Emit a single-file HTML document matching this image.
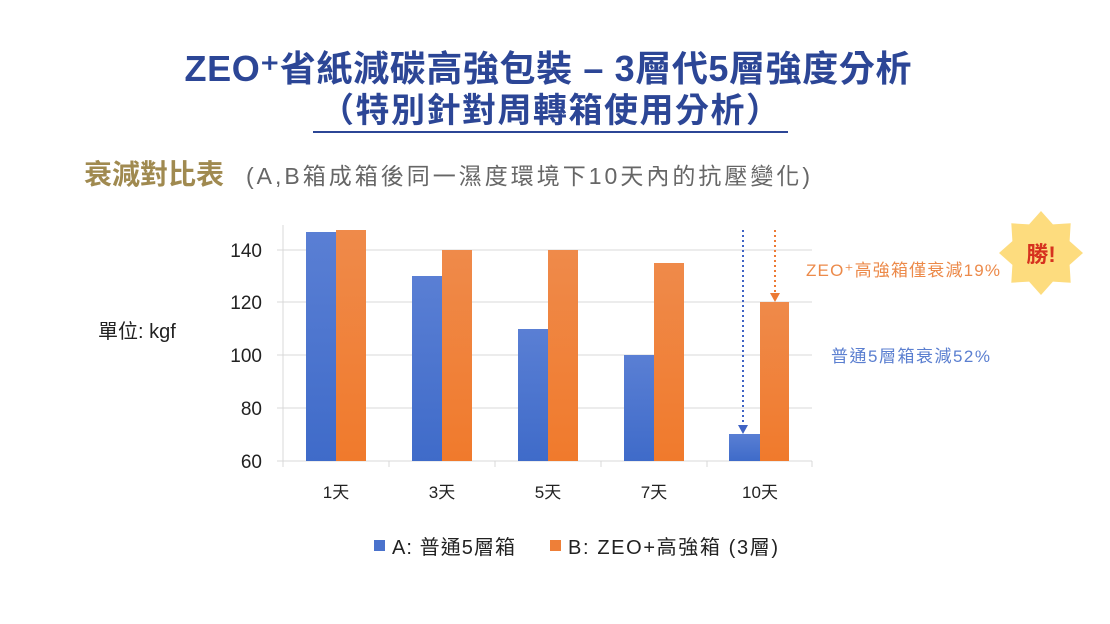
<!DOCTYPE html>
<html><head><meta charset="utf-8"><style>
body{margin:0;background:#fff;}
svg{display:block;font-family:"Liberation Sans","Noto Sans CJK TC",sans-serif;}
</style></head><body>
<svg width="1110" height="624" viewBox="0 0 1110 624">
<defs>
<linearGradient id="gb" x1="0" y1="0" x2="0" y2="1"><stop offset="0" stop-color="#5a7fd4"/><stop offset="1" stop-color="#3f6bc9"/></linearGradient>
<linearGradient id="go" x1="0" y1="0" x2="0" y2="1"><stop offset="0" stop-color="#ef8a4a"/><stop offset="1" stop-color="#f07a2c"/></linearGradient>
</defs>
<text x="548" y="81" text-anchor="middle" font-size="36" font-weight="bold" fill="#2c4696" textLength="727">ZEO⁺省紙減碳高強包裝 – 3層代5層強度分析</text>
<text x="550" y="122" text-anchor="middle" font-size="34" font-weight="bold" fill="#2c4696" textLength="460">（特別針對周轉箱使用分析）</text>
<rect x="313" y="131" width="475" height="2" fill="#2c4696"/>
<text x="84" y="184" font-size="28" font-weight="bold" fill="#a08a50">衰減對比表</text>
<text x="246" y="184" font-size="23" fill="#666" textLength="564">(A,B箱成箱後同一濕度環境下10天內的抗壓變化)</text>
<text x="98" y="338" font-size="20" fill="#222">單位: kgf</text>
<g stroke="#d9d9d9" stroke-width="1">
<line x1="277" y1="250" x2="812" y2="250"/><line x1="277" y1="302" x2="812" y2="302"/><line x1="277" y1="355" x2="812" y2="355"/><line x1="277" y1="408" x2="812" y2="408"/><line x1="277" y1="461" x2="812" y2="461"/>
<line x1="283" y1="225" x2="283" y2="461"/>
<line x1="283" y1="461" x2="283" y2="467"/><line x1="389" y1="461" x2="389" y2="467"/><line x1="495" y1="461" x2="495" y2="467"/><line x1="601" y1="461" x2="601" y2="467"/><line x1="707" y1="461" x2="707" y2="467"/><line x1="812" y1="461" x2="812" y2="467"/>
</g>
<g font-size="19" fill="#222" text-anchor="end">
<text x="262" y="257">140</text><text x="262" y="309">120</text><text x="262" y="362">100</text><text x="262" y="415">80</text><text x="262" y="468">60</text>
</g>
<g fill="url(#gb)">
<rect x="306" y="232" width="30" height="229"/><rect x="412" y="276" width="30" height="185"/><rect x="518" y="329" width="30" height="132"/><rect x="624" y="355" width="30" height="106"/><rect x="729" y="434" width="31" height="27"/>
</g>
<g fill="url(#go)">
<rect x="336" y="230" width="30" height="231"/><rect x="442" y="250" width="30" height="211"/><rect x="548" y="250" width="30" height="211"/><rect x="654" y="263" width="30" height="198"/><rect x="760" y="302" width="29" height="159"/>
</g>
<g font-size="17" fill="#222" text-anchor="middle">
<text x="336" y="498">1天</text><text x="442" y="498">3天</text><text x="548" y="498">5天</text><text x="654" y="498">7天</text><text x="760" y="498">10天</text>
</g>
<line x1="743" y1="230" x2="743" y2="426" stroke="#3f63c4" stroke-width="2" stroke-dasharray="2,3"/>
<polygon points="738,425 748,425 743,434" fill="#3f63c4"/>
<line x1="775" y1="230" x2="775" y2="294" stroke="#ec7b35" stroke-width="2" stroke-dasharray="2,3"/>
<polygon points="770,293 780,293 775,302" fill="#ec7b35"/>
<text x="806" y="276" font-size="17" fill="#ec8a4a" textLength="194">ZEO⁺高強箱僅衰減19%</text>
<text x="831" y="362" font-size="17" fill="#5b7fd0" textLength="159">普通5層箱衰減52%</text>
<polygon transform="translate(1041,253)" fill="#fddc7e" points="0,-42 11.9,-28.6 29.7,-29.7 28.6,-11.9 42,0 28.6,11.9 29.7,29.7 11.9,28.6 0,42 -11.9,28.6 -29.7,29.7 -28.6,11.9 -42,0 -28.6,-11.9 -29.7,-29.7 -11.9,-28.6"/>
<text x="1041" y="262" text-anchor="middle" font-size="22" font-weight="bold" fill="#d6321f">勝!</text>
<rect x="374" y="540" width="11" height="11" fill="#4a72cc"/>
<text x="392" y="554" font-size="20" fill="#222" textLength="123">A: 普通5層箱</text>
<rect x="550" y="540" width="11" height="11" fill="#ee7f38"/>
<text x="568" y="554" font-size="20" fill="#222" textLength="210">B: ZEO+高強箱 (3層)</text>
</svg>
</body></html>
